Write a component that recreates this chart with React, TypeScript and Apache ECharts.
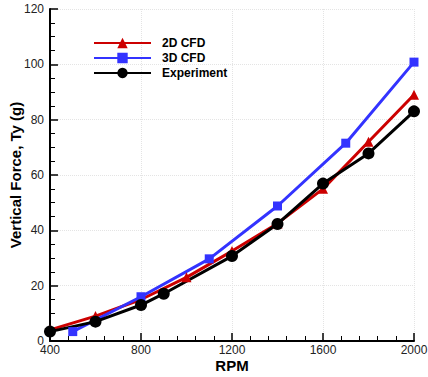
import React, { useEffect, useRef } from "react";
import * as echarts from "echarts";

const rpm2D = [400, 600, 800, 1000, 1200, 1400, 1600, 1800, 2000];
const force2D = [4, 9, 15, 23, 32.5, 42.5, 55, 72, 89];
const rpm3D = [500, 800, 1100, 1400, 1700, 2000];
const force3D = [3.4, 16, 29.7, 48.8, 71.5, 100.8];
const rpmExp = [400, 600, 800, 900, 1200, 1400, 1600, 1800, 2000];
const forceExp = [3.4, 7, 13, 17.1, 30.7, 42.3, 56.9, 67.8, 83];

const seriesNames = ["2D CFD", "3D CFD", "Experiment"];
const xTicks = { min: 400, max: 2000, interval: 400 };
const yTicks = { min: 0, max: 120, interval: 20 };

const zip = (xs: number[], ys: number[]) => xs.map((x, i) => [x, ys[i]]);

export default function App() {
  const ref = useRef<HTMLDivElement>(null);
  useEffect(() => {
    document.body.style.margin = "0";
    const chart = echarts.init(ref.current!, null, { renderer: "svg" });
    const font = "'Liberation Sans', Arial, sans-serif";
    const axisCommon = {
      axisLine: { show: true, onZero: false, lineStyle: { color: "#000", width: 2 } },
      axisTick: { show: true, inside: true, length: 8, lineStyle: { color: "#000", width: 1.5 } },
      minorTick: { show: true, length: 5, lineStyle: { color: "#000", width: 1 } },
      splitLine: { show: true, lineStyle: { color: "#e4e4e4", type: "dotted", width: 1 } },
      axisLabel: { color: "#222", fontSize: 12, fontFamily: font, formatter: (v: number) => String(v) },
      nameTextStyle: { color: "#000", fontSize: 15, fontWeight: "bold", fontFamily: font },
      nameMoveOverlap: false,
    };
    chart.setOption({
      animation: false,
      backgroundColor: "#fff",
      grid: { left: 50, top: 9, width: 364, height: 332, outerBoundsMode: "none", containLabel: false },
      legend: {
        orient: "vertical",
        left: 93,
        top: 37,
        padding: 0,
        itemWidth: 57,
        itemHeight: 13,
        itemGap: 3,
        data: seriesNames,
        textStyle: { fontSize: 12, fontWeight: "bold", color: "#000", fontFamily: font, padding: [0, 0, 0, 6] },
      },
      xAxis: {
        type: "value",
        ...xTicks,
        ...axisCommon,
        minorTick: { ...axisCommon.minorTick, splitNumber: 5 },
        axisLabel: { ...axisCommon.axisLabel, margin: 3 },
        name: "RPM",
        nameLocation: "middle",
        nameGap: 17,
      },
      yAxis: {
        type: "value",
        ...yTicks,
        ...axisCommon,
        minorTick: { ...axisCommon.minorTick, splitNumber: 4 },
        axisLabel: { ...axisCommon.axisLabel, margin: 6 },
        name: "Vertical Force, Ty (g)",
        nameLocation: "middle",
        nameGap: 27,
      },
      series: [
        {
          name: seriesNames[0],
          type: "line",
          data: zip(rpm2D, force2D),
          symbol: "triangle",
          symbolSize: 10,
          color: "#cc0000",
          lineStyle: { width: 3, color: "#cc0000" },
          itemStyle: { color: "#cc0000" },
        },
        {
          name: seriesNames[1],
          type: "line",
          data: zip(rpm3D, force3D),
          symbol: "rect",
          symbolSize: 9,
          color: "#3333ff",
          lineStyle: { width: 3, color: "#3333ff" },
          itemStyle: { color: "#3333ff" },
        },
        {
          name: seriesNames[2],
          type: "line",
          data: zip(rpmExp, forceExp),
          symbol: "circle",
          symbolSize: 12,
          color: "#000",
          lineStyle: { width: 3, color: "#000" },
          itemStyle: { color: "#000" },
        },
      ],
    });
    return () => chart.dispose();
  }, []);
  return <div ref={ref} style={{ width: 428, height: 377 }} />;
}
